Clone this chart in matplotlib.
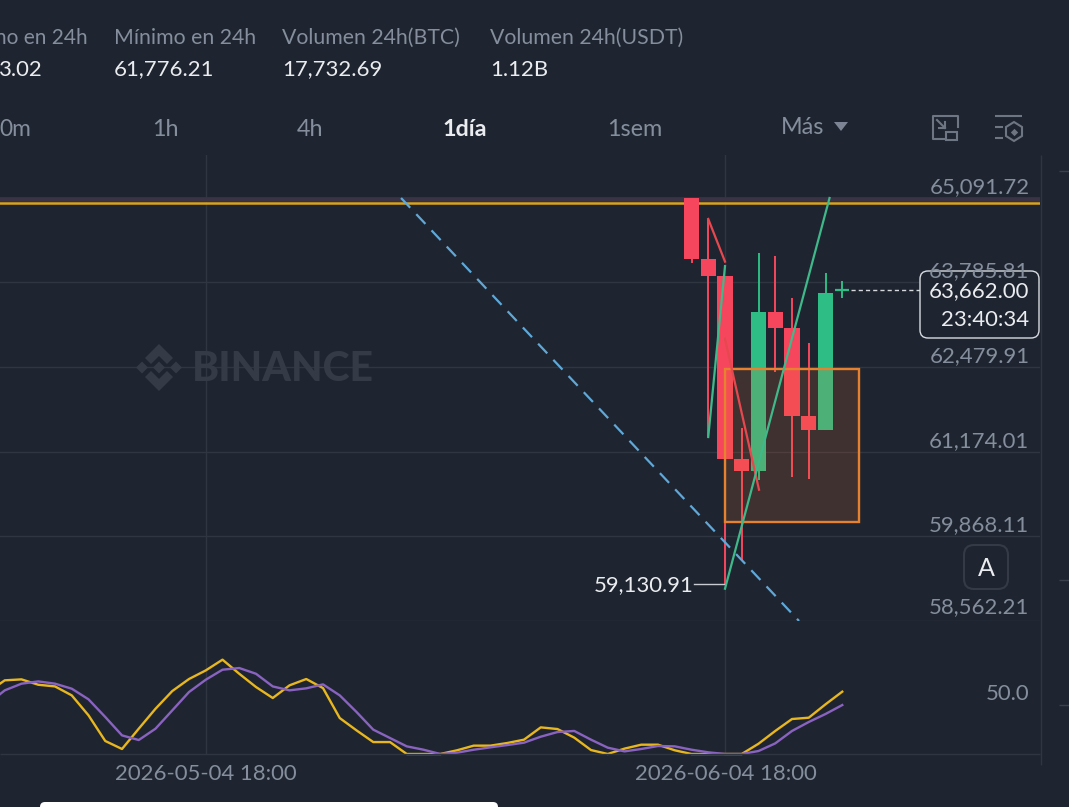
import matplotlib
matplotlib.use("Agg")
import matplotlib.pyplot as plt
from matplotlib.patches import Rectangle, FancyBboxPatch, Polygon

W, H = 1069, 807
BG = "#1e2530"
GRID = "#2f3541"
MUTED = "#848e9c"
RED = "#f6465d"
GREEN = "#2ebd85"
WATER = "#343a46"
plt.rcParams["font.family"] = ["Lato", "DejaVu Sans"]

# ---- data ----
candle_days = [-2, -1, 0, 1, 2, 3, 4, 5, 6, 7]
opens = [65080, 64136, 63878, 61054, 60878, 63323, 63077, 61721, 61505, 63616]
closes = [64136, 63878, 61054, 60878, 63323, 63077, 61721, 61505, 63616, 63662]
highs = [65080, 64757, 63878, 61536, 64233, 64186, 63539, 62850, 63920, 63800]
lows = [64083, 61397, 59130.91, 59502, 60735, 62404, 60781, 60750, 61505, 63540]

price_ticks = [65091.72, 63785.81, 62479.91, 61174.01, 59868.11, 58562.21]
price_labels = ["65,091.72", "63,785.81", "62,479.91", "61,174.01", "59,868.11", "58,562.21"]
level_price = 65009
box_days = [0.0, 8.0]
box_prices = [60092, 62450]
dash_days = [-19.34, 4.42]
dash_prices = [65080, 58562.21]
red_a_days = [-1, 0]
red_a_prices = [64757, 64100]
red_b_days = [0, 2.03]
red_b_prices = [62910, 60585]
green_a_days = [-1, 0]
green_a_prices = [61397, 64030]
green_b_days = [0, 6.24]
green_b_prices = [59060, 65080]
last_price = 63662.00
low_price = 59130.91

osc_days = list(range(-44, 8))
osc_yellow = [51.9, 61.7, 62.5, 58.0, 56.6, 49.1, 32.4, 10.9, 4.2, 21.2, 37.9, 52.7, 62.8,
              70.0, 79.0, 67.2, 56.1, 46.9, 57.5, 62.8, 55.2, 30.1, 19.8, 10.0, 10.0, 0, 0, 0,
              3.1, 7.0, 7.0, 9.2, 12.0, 22.3, 20.9, 13.7, 3.3, 0, 4.5, 7.8, 7.8, 3.1, 0, 0, 0, 0,
              8.6, 19.3, 29.3, 30.4, 41.6, 52.2]
osc_purple = [42.1, 53.3, 58.9, 60.8, 58.9, 54.7, 45.8, 31.0, 15.6, 11.7, 21.2, 36.5, 51.9,
              62.2, 70.6, 72.0, 67.2, 56.6, 53.3, 55.0, 58.3, 49.1, 35.2, 20.4, 13.4, 6.4, 3.6, 0,
              1.1, 3.6, 5.6, 7.5, 9.5, 14.5, 18.4, 19.3, 12.0, 5.3, 2.2, 4.2, 6.7, 6.4, 3.6, 1.4, 0, 0,
              2.5, 8.9, 19.3, 26.8, 33.5, 41.0]
date_days = [-31, 0]
date_labels = ["2026-05-04 18:00", "2026-06-04 18:00"]

header_labels = ["no en 24h", "Mínimo en 24h", "Volumen 24h(BTC)", "Volumen 24h(USDT)"]
header_values = ["3.02", "61,776.21", "17,732.69", "1.12B"]
header_x = [88, 114, 282, 490]
tabs = ["0m", "1h", "4h", "1día", "1sem"]
tab_x = [15, 165, 310, 465, 635]

FS = 15.9

fig = plt.figure(figsize=(W / 100, H / 100), dpi=100, facecolor=BG)


def add_ax(x0, y0, x1, y1):
    a = fig.add_axes([x0 / W, 1 - y1 / H, (x1 - x0) / W, (y1 - y0) / H], facecolor="none")
    a.set_xticks([])
    a.set_yticks([])
    for s in a.spines.values():
        s.set_visible(False)
    return a


def ptext(x, y, s, **kw):
    kw.setdefault("va", "center")
    return fig.text(x / W, 1 - y / H, s, **kw)


px_per_day = 16.75
xlim = (-725 / px_per_day, (1040 - 725) / px_per_day)
per_px = 1305.9 / 84.75
p_top = 63785.81 + (282 - 155) * per_px
p_bot = 63785.81 - (621 - 282) * per_px

ax = add_ax(0, 155, 1040, 621)
ax.set_xlim(*xlim)
ax.set_ylim(p_bot, p_top)

for d in date_days:
    ax.axvline(d, color=GRID, lw=1, zorder=1)
for p in price_ticks[1:]:
    ax.axhline(p, color=GRID, lw=1, zorder=1)

ax.text(-31.85, 62440, "BINANCE", color=WATER, fontsize=29.4, fontweight="black",
        va="center", ha="left", zorder=1)

# level band and line
ax.axhline(level_price + 50, color="#3a3345", lw=3.4, zorder=2)
ax.axhline(level_price, color="#dba31c", lw=1.8, zorder=3)

# candles
for d, o, c, h, l in zip(candle_days, opens, closes, highs, lows):
    col = GREEN if c >= o else RED
    ax.vlines(d, l, h, color=col, lw=1.4, zorder=4)
    if d < 7:
        ax.add_patch(Rectangle((d - 0.45, min(o, c)), 0.9, abs(c - o), fc=col, ec="none", zorder=4))
    else:
        ax.hlines(c, d - 0.42, d + 0.42, color=col, lw=1.6, zorder=4)

# orange box
ax.add_patch(Rectangle((box_days[0], box_prices[0]), box_days[1] - box_days[0],
                       box_prices[1] - box_prices[0], fc="#f0722a", alpha=0.16, ec="none", zorder=5))
ax.add_patch(Rectangle((box_days[0], box_prices[0]), box_days[1] - box_days[0],
                       box_prices[1] - box_prices[0], fc="none", ec="#e6812f", lw=1.7, zorder=6))

# drawn lines
ax.plot(dash_days, dash_prices, color="#5fa8d8", lw=1.6, dashes=(6, 4), zorder=5)
ax.plot(red_a_days, red_a_prices, color="#e5484f", lw=1.6, zorder=6)
ax.plot(red_b_days, red_b_prices, color="#e5484f", lw=1.6, zorder=6)
ax.plot(green_a_days, green_a_prices, color="#3fb88a", lw=1.6, zorder=6)
ax.plot(green_b_days, green_b_prices, color="#3fb88a", lw=1.6, zorder=6)

# last price dashed
ax.plot([7.5, 11.7], [last_price, last_price], color="#d5d8dc", lw=1, dashes=(3, 2.2), zorder=6)
# low annotation
ax.plot([-1.85, -0.05], [low_price, low_price], color="#c8ccd2", lw=1, zorder=6)
ax.text(-1.9, low_price - 15, "59,130.91", color="#eaecef", fontsize=FS, ha="right", va="center", zorder=7)

# price labels
label_y = [187.5, 271.5, 356.5, 441.5, 525.5, 607.5]
for yp, s in zip(label_y, price_labels):
    ptext(1029.5, yp, s, color=MUTED, fontsize=FS, ha="right", zorder=7)

# oscillator pane
rsi = add_ax(0, 621, 1040, 754)
rsi.set_xlim(*xlim)
rsi.set_ylim(0, 133 / 1.194)
for d in date_days:
    rsi.axvline(d, color=GRID, lw=1, zorder=1)
rsi.plot(osc_days, osc_yellow, color="#e8b71f", lw=1.7, zorder=3, clip_on=False)
rsi.plot(osc_days, osc_purple, color="#8a63c0", lw=1.7, zorder=4, clip_on=False)

# pane rules and decorations, drawn in picture pixels
bg = add_ax(0, 0, W, H)
bg.set_xlim(0, W)
bg.set_ylim(H, 0)
bg.hlines([754], 0, 1040, color=GRID, lw=1)
bg.vlines([1040.5], 155, 765, color=GRID, lw=1)
bg.hlines([170.7, 580, 705], 1059, 1069, color="#3a404c", lw=1)

# Binance logo
for cx in (142, 159, 176):
    bg.add_patch(Polygon([[cx - 6, 367.5], [cx, 361.5], [cx + 6, 367.5], [cx, 373.5]], fc=WATER, ec="none"))
bg.add_patch(Polygon([[159, 344], [173, 358], [167, 364], [159, 356], [151, 364], [145, 358]], fc=WATER, ec="none"))
bg.add_patch(Polygon([[159, 391], [173, 377], [167, 371], [159, 379], [151, 371], [145, 377]], fc=WATER, ec="none"))

# current price box
bg.add_patch(FancyBboxPatch((920, 271), 119, 67, boxstyle="round,pad=0,rounding_size=8",
                            fc=BG, ec="#d8dbe0", lw=1, zorder=9))
ptext(1029.5, 291.5, "63,662.00", color="#eaecef", fontsize=FS, ha="right", zorder=10)
ptext(1029.5, 320.5, "23:40:34", color="#eaecef", fontsize=FS, ha="right", zorder=10)
ptext(1029.5, 694.5, "50.0", color=MUTED, fontsize=FS, ha="right", zorder=10)

# A button
bg.add_patch(FancyBboxPatch((964, 545), 44, 44, boxstyle="round,pad=0,rounding_size=10",
                            fc="none", ec="#343a46", lw=1.5))
ptext(986, 568, "A", color="#eaecef", fontsize=18, ha="center")

# date labels
for d, s in zip(date_days, date_labels):
    ptext(725 + d * px_per_day + 0.5, 773.5, s, color=MUTED, fontsize=FS, ha="center")

# header
for x, a, b in zip(header_x, header_labels, header_values):
    if x == 88:
        ptext(x, 38, a, color=MUTED, fontsize=15.0, ha="right")
        ptext(43, 69.5, b, color="#eaecef", fontsize=FS, ha="right")
    else:
        ptext(x, 38, a, color=MUTED, fontsize=15.3, ha="left")
        ptext(x, 69.5, b, color="#eaecef", fontsize=FS, ha="left")

# tabs
for x, s in zip(tab_x, tabs):
    on = s == "1día"
    ptext(x, 129.5, s, color="#eaecef" if on else MUTED, fontsize=16.4 if s == "0m" else 16.8,
          ha="center", fontweight="bold" if on else "normal")
ptext(781, 127.5, "Más", color=MUTED, fontsize=16.8, ha="left")
bg.add_patch(Polygon([[834, 122], [848, 122], [841, 131]], fc="#7d8594", ec="none"))

# toolbar icons
ic = "#6f7683"
bg.plot([944, 933, 933, 958, 958], [139, 139, 116, 116, 127], color=ic, lw=1.5)
bg.add_patch(Rectangle((946, 132), 11, 8, fc="none", ec=ic, lw=1.5))
bg.plot([937, 945], [120, 128], color=ic, lw=1.5)
bg.plot([939, 945, 945], [128, 128, 122], color=ic, lw=1.5)
bg.hlines([116], 995, 1022, color=ic, lw=1.5)
bg.hlines([127, 138], 995, 1003, color=ic, lw=1.5)
bg.add_patch(Polygon([[1014, 122], [1022, 127], [1022, 136], [1014, 141], [1006, 136], [1006, 127]],
                     fc="none", ec=ic, lw=1.5))
bg.scatter([1014], [131.5], marker="D", s=14, color=ic, linewidths=0)

# bottom white sheet
bg.add_patch(FancyBboxPatch((40, 802), 458, 20, boxstyle="round,pad=0,rounding_size=5",
                            fc="#ffffff", ec="none", zorder=11))

fig.savefig("out.png", dpi=100, facecolor=BG)
